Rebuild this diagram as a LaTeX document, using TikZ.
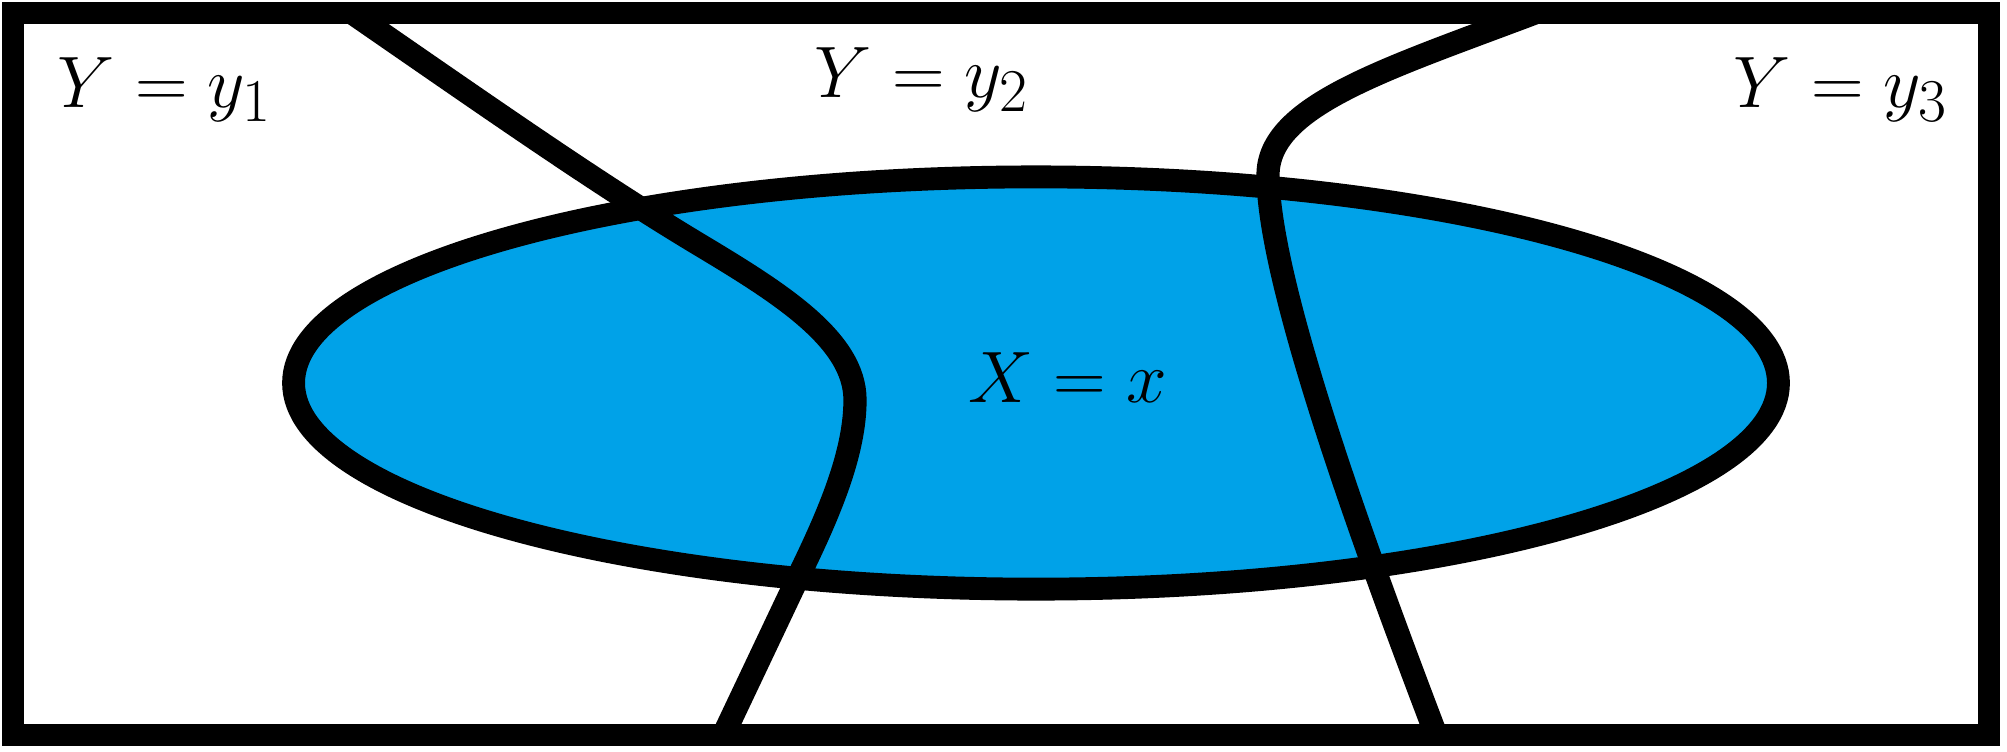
\documentclass[tikz,border=0pt]{standalone}
\definecolor{skyfill}{HTML}{00A2E8}
\tikzset{
  frameline/.style={draw=black, line width=6.3pt},
  curveline/.style={draw=black, line width=6.6pt},
  ellline/.style={draw=black, line width=6.5pt, fill=skyfill},
  lbl/.style={inner sep=0pt, anchor=base, font=\fontsize{22.8}{27}\selectfont}
}
\begin{document}
\begin{tikzpicture}[x=0.01cm, y=-0.01cm]
\useasboundingbox (0,0) rectangle (2007,751);
% ellipse X = x
\path[ellline] (1036,383) ellipse [x radius=7.42cm, y radius=2.06cm];
\begin{scope}
\clip (13,13) rectangle (1989,735);
% boundary curve between y1 and y2
\coordinate (c1s) at (348,10);
\coordinate (c1a) at (700,245);
\coordinate (c1b) at (855,400);
\coordinate (c1c) at (803,567);
\coordinate (c1e) at (721,740);
\draw[curveline] (c1s) .. controls (500,115) and (600,185) .. (c1a)
  .. controls (780,293) and (855,340) .. (c1b)
  .. controls (855,450) and (832,507) .. (c1c) -- (c1e);
% boundary curve between y2 and y3
\coordinate (c2s) at (1438,740);
\coordinate (c2a) at (1268,175);
\coordinate (c2e) at (1540,11);
\draw[curveline] (c2s) .. controls (1379,585) and (1268,290) .. (c2a)
  .. controls (1268,105) and (1388,68.6) .. (c2e);
\end{scope}
% frame
\draw[frameline] (13,13) rectangle (1989,735);
% labels
\node[lbl] (ly1) at (165,107) {$Y=y_1$};
\node[lbl] (ly2) at (922,97) {$Y=y_2$};
\node[lbl] (ly3) at (1841,107) {$Y=y_3$};
\node[lbl] (lx) at (1068,402) {$X=x$};
\end{tikzpicture}
\end{document}
